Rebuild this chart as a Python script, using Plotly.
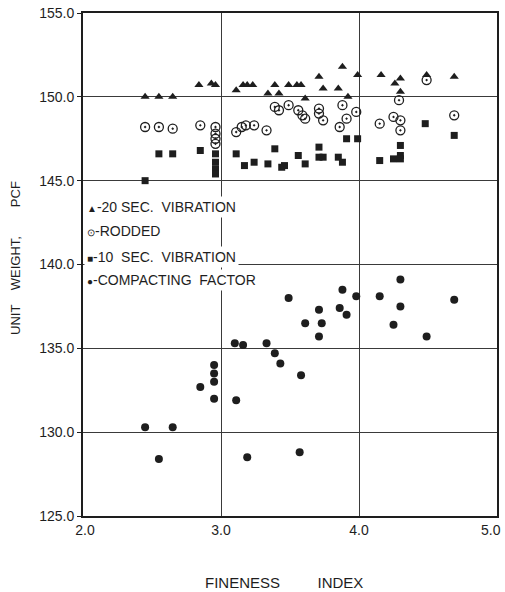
import plotly.graph_objects as go

# 20 sec. vibration (triangles)
vib20_x = [2.45, 2.55, 2.65, 2.84, 2.93, 2.96, 3.11, 3.16, 3.19, 3.23, 3.34, 3.42, 3.39, 3.49, 3.55, 3.58,
           3.61, 3.71, 3.74, 3.85, 3.88, 3.92, 3.99, 4.16, 4.26, 4.30, 4.30, 4.49, 4.69]
vib20_y = [150.0, 150.0, 150.0, 150.7, 150.8, 150.7, 150.4, 150.7, 150.7, 150.7, 150.2, 150.2, 150.7, 150.7, 150.7, 150.7,
           149.9, 151.2, 150.5, 150.5, 151.8, 150.0, 151.3, 151.3, 150.8, 151.1, 150.3, 151.3, 151.2]

# Rodded (open circle with dot)
rod_x = [2.45, 2.55, 2.65, 2.85, 2.96, 2.96, 2.96, 2.96, 3.11, 3.15, 3.18, 3.24, 3.33, 3.39, 3.42, 3.49, 3.56,
         3.59, 3.61, 3.71, 3.71, 3.74, 3.88, 3.86, 3.91, 3.98, 4.15, 4.25, 4.30, 4.30, 4.49, 4.29, 4.69]
rod_y = [148.2, 148.2, 148.1, 148.3, 148.2, 147.8, 147.5, 147.2, 147.9, 148.2, 148.3, 148.3, 148.0, 149.4, 149.2, 149.5, 149.2,
         148.9, 148.7, 149.3, 149.0, 148.6, 149.5, 148.2, 148.7, 149.1, 148.4, 148.8, 148.6, 148.0, 151.0, 149.8, 148.9]

# 10 sec. vibration (squares)
vib10_x = [2.45, 2.55, 2.65, 2.85, 2.96, 2.96, 2.96, 2.96, 3.11, 3.17, 3.24, 3.34, 3.39, 3.44, 3.46, 3.56, 3.61,
           3.71, 3.71, 3.74, 3.85, 3.88, 3.91, 3.99, 4.15, 4.25, 4.30, 4.30, 4.30, 4.48, 4.69]
vib10_y = [145.0, 146.6, 146.6, 146.8, 146.6, 146.1, 145.7, 145.4, 146.6, 145.9, 146.1, 146.0, 146.9, 145.8, 145.9, 146.5, 146.0,
           147.0, 146.4, 146.4, 146.4, 146.1, 147.5, 147.5, 146.2, 146.3, 147.1, 146.5, 146.3, 148.4, 147.7]

# Compacting factor (filled circles)
cf_x = [2.45, 2.55, 2.65, 2.85, 2.95, 2.95, 2.95, 2.95, 3.11, 3.10, 3.16, 3.19, 3.33, 3.39, 3.43, 3.49, 3.58, 3.57,
        3.61, 3.71, 3.71, 3.73, 3.86, 3.88, 3.91, 3.98, 4.15, 4.25, 4.30, 4.30, 4.49, 4.69]
cf_y = [130.3, 128.4, 130.3, 132.7, 134.0, 133.5, 133.0, 132.0, 131.9, 135.3, 135.2, 128.5, 135.3, 134.7, 134.1, 138.0, 133.4, 128.8,
        136.5, 137.3, 135.7, 136.5, 137.4, 138.5, 137.0, 138.1, 138.1, 136.4, 139.1, 137.5, 135.7, 137.9]

series_names = ["20 SEC.  VIBRATION", "RODDED", "10  SEC.  VIBRATION", "COMPACTING  FACTOR"]
legend_glyphs = ["▲", "⊙", "■", "●"]

x_ticks = [2.0, 3.0, 4.0, 5.0]
x_tick_labels = ["2.0", "3.0", "4.0", "5.0"]
y_ticks = [125, 130, 135, 140, 145, 150, 155]
y_tick_labels = ["125.0", "130.0", "135.0", "140.0", "145.0", "150.0", "155.0"]

INK = "#1e1e1e"
FONT = "Liberation Sans"

fig = go.Figure()
fig.add_trace(go.Scatter(x=vib20_x, y=vib20_y, mode="markers", name=series_names[0],
                         marker=dict(symbol="triangle-up", size=8, color=INK)))
fig.add_trace(go.Scatter(x=rod_x, y=rod_y, mode="markers", name=series_names[1],
                         marker=dict(symbol="circle-open-dot", size=9, color=INK, line=dict(width=1.3, color=INK))))
fig.add_trace(go.Scatter(x=vib10_x, y=vib10_y, mode="markers", name=series_names[2],
                         marker=dict(symbol="square", size=7, color=INK)))
fig.add_trace(go.Scatter(x=cf_x, y=cf_y, mode="markers", name=series_names[3],
                         marker=dict(symbol="circle", size=8, color=INK)))

PLOT_L, PLOT_R, PLOT_T, PLOT_B = 83, 497, 13, 516
PLOT_W = PLOT_R - PLOT_L
PLOT_H = PLOT_B - PLOT_T
row_py = [207, 231, 257, 280]
legend_ann = []
for glyph, name, py in zip(legend_glyphs, series_names, row_py):
    legend_ann.append(dict(
        text='<span style="font-size:10px">' + glyph + '</span>-' + name.replace("  ", "&nbsp;&nbsp;"),
        xref="paper", yref="paper", x=0, xshift=1, y=(PLOT_B - py) / PLOT_H,
        xanchor="left", yanchor="middle", showarrow=False,
        bgcolor="white", borderpad=2,
        font=dict(family=FONT, size=14, color=INK)))

# first label nudged right; last label drawn right-aligned to stay inside the page
x_ticktext = list(x_tick_labels)
x_ticktext[0] = "&nbsp;" + x_ticktext[0]
x_ticktext[-1] = ""
last_label_ann = dict(text=x_tick_labels[-1], xref="x", yref="paper", x=x_ticks[-1], xshift=6,
                      y=-(530 - PLOT_B) / PLOT_H, xanchor="right", yanchor="middle", showarrow=False,
                      font=dict(family=FONT, size=14, color=INK))

fig.update_layout(
    width=505, height=592,
    margin=dict(l=PLOT_L, r=505 - PLOT_R, t=PLOT_T, b=592 - PLOT_B, autoexpand=False),
    paper_bgcolor="white", plot_bgcolor="white",
    font=dict(family=FONT, size=14, color=INK),
    showlegend=False,
    xaxis=dict(range=[2, 5], tickmode="array", tickvals=x_ticks, ticktext=x_ticktext,
               showgrid=True, gridcolor="#3a3a3a", gridwidth=1.3,
               showline=True, linecolor=INK, linewidth=2, mirror=True, automargin=False,
               ticks="", zeroline=False, tickfont=dict(size=14)),
    yaxis=dict(range=[125, 155], tickmode="array", tickvals=y_ticks, ticktext=y_tick_labels,
               showgrid=True, gridcolor="#3a3a3a", gridwidth=1.3,
               showline=True, linecolor=INK, linewidth=2, mirror=True, automargin=False,
               ticks="outside", ticklen=4, tickcolor=INK, zeroline=False, tickfont=dict(size=14)),
    annotations=legend_ann + [
        last_label_ann,
        dict(text="FINENESS" + "&nbsp;" * 9 + "INDEX", xref="paper", yref="paper",
             x=(284 - PLOT_L) / PLOT_W, y=-(582 - PLOT_B) / PLOT_H, showarrow=False,
             font=dict(size=15, color=INK), xanchor="center", yanchor="middle"),
        dict(text="UNIT" + "&nbsp;" * 4 + "WEIGHT," + "&nbsp;" * 8 + "PCF", xref="paper", yref="paper",
             x=-(PLOT_L - 15) / PLOT_W, y=(PLOT_B - 258) / PLOT_H, showarrow=False, textangle=-90,
             font=dict(size=13, color=INK), xanchor="center", yanchor="middle"),
    ],
)

fig.write_html("out.html")
